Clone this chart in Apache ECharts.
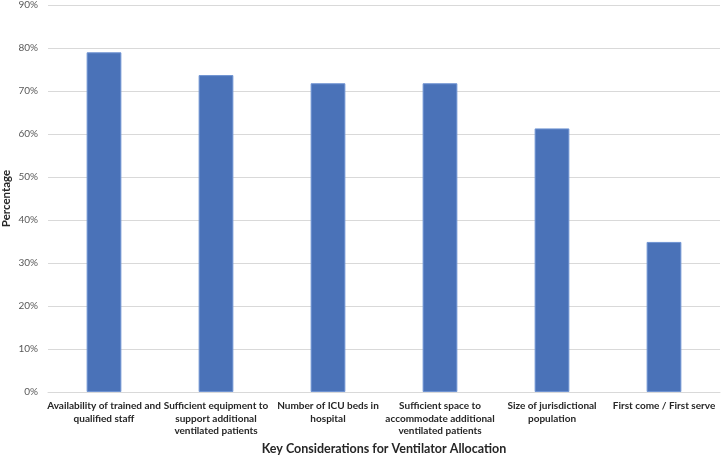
<!DOCTYPE html>
<html>
<head>
<meta charset="utf-8">
<script src="https://cdn.jsdelivr.net/npm/echarts@6/dist/echarts.min.js"></script>
<style>html,body{margin:0;padding:0;background:#fff}#c{width:722px;height:456px}</style>
</head>
<body>
<div id="c"></div>
<script>
const categories = [
  "Availability of trained and\nqualified staff",
  "Sufficient equipment to\nsupport additional\nventilated patients",
  "Number of ICU beds in\nhospital",
  "Sufficient space to\naccommodate additional\nventilated patients",
  "Size of jurisdictional\npopulation",
  "First come / First serve"
];
const values = [79.0, 73.7, 71.8, 71.8, 61.3, 34.9];
const yTicks = [0, 10, 20, 30, 40, 50, 60, 70, 80, 90];

const chart = echarts.init(document.getElementById('c'), null, {renderer: 'canvas'});
chart.setOption({
  animation: false,
  backgroundColor: '#fff',
  grid: {left: 48, right: 2, top: 5, bottom: 64, containLabel: false, outerBoundsMode: 'none'},
  xAxis: {
    type: 'category',
    data: categories,
    name: 'Key Considerations for Ventilator Allocation',
    nameLocation: 'middle',
    nameGap: 50,
    nameMoveOverlap: false,
    nameTextStyle: {fontFamily: 'Lato', fontWeight: 'bold', fontSize: 12.5, color: '#262626'},
    axisLine: {lineStyle: {color: '#d9d9d9', width: 1}},
    axisTick: {show: false},
    axisLabel: {interval: 0, fontFamily: 'Lato', fontWeight: 'bold', fontSize: 10, color: '#262626', lineHeight: 12.5, margin: 8}
  },
  yAxis: {
    type: 'value',
    min: 0, max: 90, interval: 10,
    name: 'Percentage',
    nameLocation: 'middle',
    nameGap: 36,
    nameRotate: 90,
    nameMoveOverlap: false,
    nameTextStyle: {fontFamily: 'Lato', fontWeight: 'bold', fontSize: 11.5, color: '#262626'},
    axisLine: {show: false},
    axisTick: {show: false},
    splitLine: {lineStyle: {color: '#d9d9d9', width: 1}},
    axisLabel: {
      fontFamily: 'Lato', fontSize: 10, color: '#595959', margin: 10,
      formatter: v => yTicks.includes(v) ? v + '%' : ''
    }
  },
  series: [{
    type: 'bar',
    data: values,
    barWidth: '31%',
    itemStyle: {color: '#4a72b8', borderColor: '#6f93d2', borderWidth: 1}
  }]
});
</script>
</body>
</html>
